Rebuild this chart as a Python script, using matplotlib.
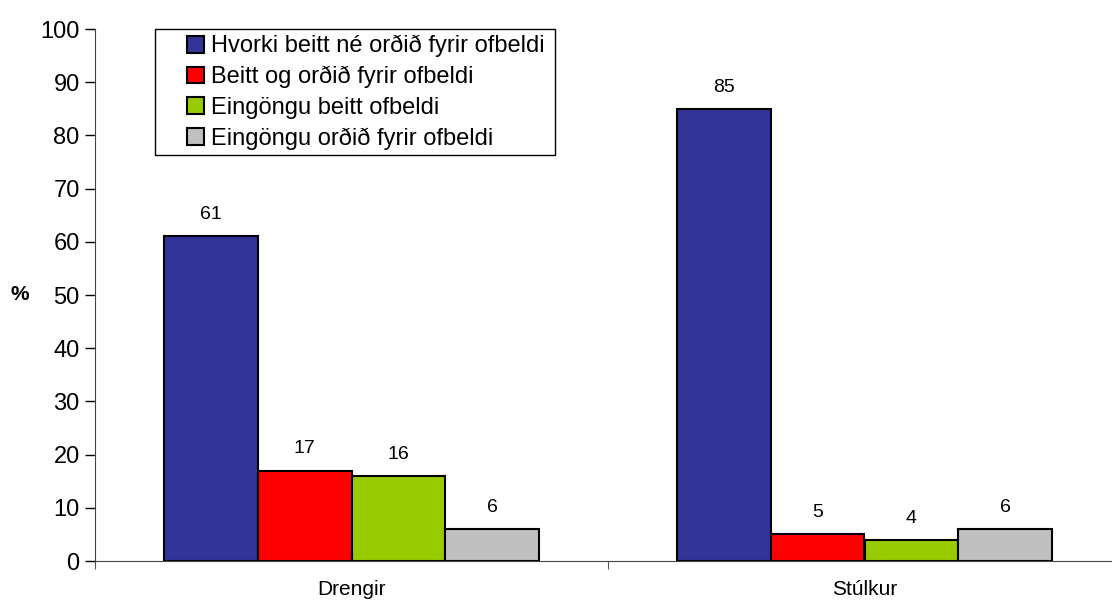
import numpy as np
import matplotlib.pyplot as plt
from matplotlib.patches import Rectangle

plt.rcParams['font.family'] = ['Liberation Sans', 'DejaVu Sans']

# gögn
hopar = ['Drengir', 'Stúlkur']
flokkar = ['Hvorki beitt né orðið fyrir ofbeldi',
           'Beitt og orðið fyrir ofbeldi',
           'Eingöngu beitt ofbeldi',
           'Eingöngu orðið fyrir ofbeldi']
hvorki = [61, 85]
baedi = [17, 5]
beitt = [16, 4]
ordid = [6, 6]
litir = ['#333399', '#FF0000', '#99CC00', '#C0C0C0']

fig = plt.figure(figsize=(11.12, 6.01), dpi=100)
ax = fig.add_axes([95/1112, 1 - 561/601, 1026/1112, 532/601])

x = np.arange(len(hopar))
w = 0.1827
for i, (vals, c, lab) in enumerate(zip([hvorki, baedi, beitt, ordid], litir, flokkar)):
    pos = x + (i - 1.5) * w
    bars = ax.bar(pos, vals, w, color=c, edgecolor='black', linewidth=1.5, label=lab)
    for b, v in zip(bars, vals):
        ax.annotate(f'{v}', (b.get_x() + b.get_width()/2, v), xytext=(0, 9.5),
                    textcoords='offset points', ha='center', va='bottom', fontsize=14)

ax.set_xlim(-0.5, 1.5)
ax.set_ylim(0, 100)
ax.set_yticks(range(0, 101, 10))
ax.tick_params(axis='y', labelsize=17, length=7, direction='out', width=1, pad=4)
ax.set_xticks([-0.5, 0.5, 1.5])
ax.set_xticklabels([])
ax.set_xticks(x, minor=True)
ax.set_xticklabels(hopar, minor=True, fontsize=15)
ax.tick_params(axis='x', which='major', length=6, color='#555555')
ax.tick_params(axis='x', which='minor', length=0, pad=14)
for s in ['top', 'right']:
    ax.spines[s].set_visible(False)
ax.spines['left'].set_color('#444444')
ax.spines['bottom'].set_color('#444444')

fig.text(20/1112, 1 - 294/601, '%', fontsize=15, fontweight='bold', ha='center', va='center')

leg = ax.legend(loc='upper left', bbox_to_anchor=(187/1112, 1 - 35/601),
                bbox_transform=fig.transFigure, fontsize=17, frameon=False,
                handlelength=0.72, handleheight=0.72, handletextpad=0.3,
                labelspacing=0.36, borderpad=0, borderaxespad=0)
for h in leg.legend_handles:
    h.set_linewidth(1.5)
fig.patches.append(Rectangle((155/1112, 1 - 155/601), 400/1112, 126/601,
                             transform=fig.transFigure, fill=False,
                             edgecolor='black', linewidth=1, zorder=5))

plt.savefig('out.png', dpi=100)
